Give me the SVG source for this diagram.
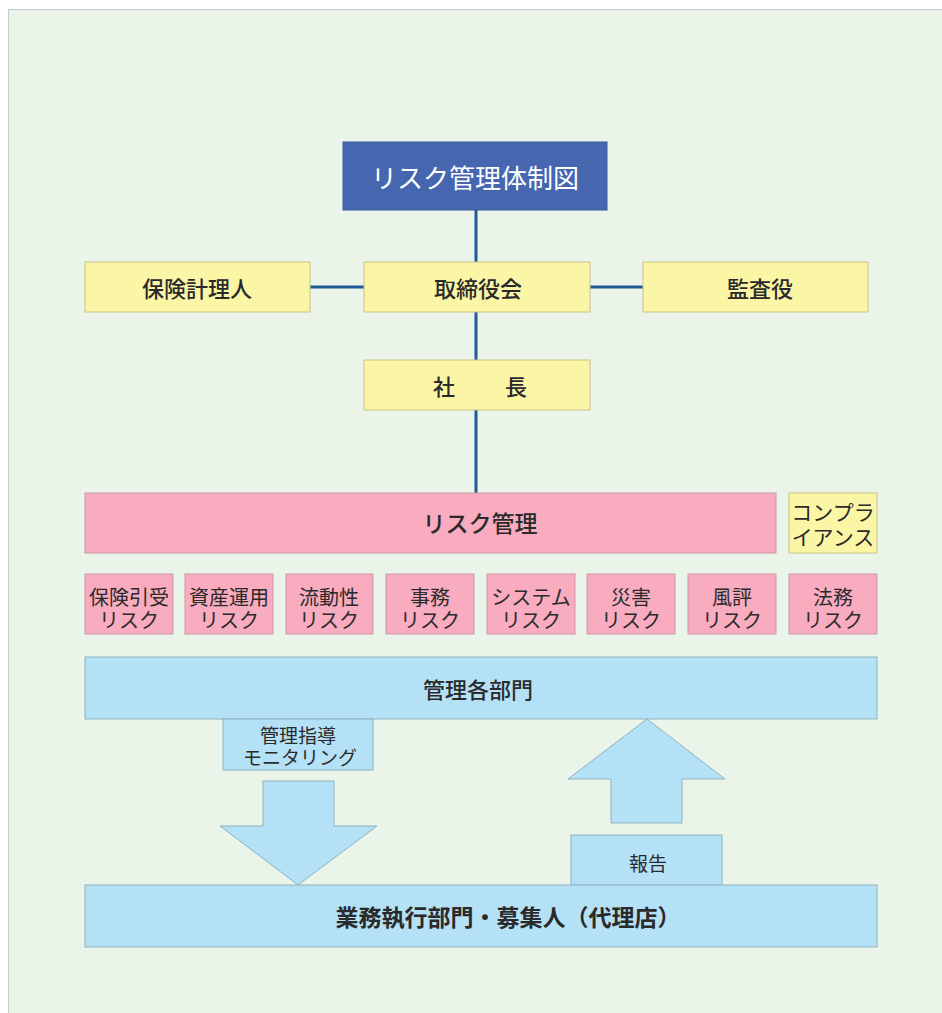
<svg xmlns="http://www.w3.org/2000/svg" width="942" height="1013" viewBox="0 0 942 1013">
<style>
text{font-family:"Noto Sans CJK JP","Noto Sans",sans-serif;fill:#2a2a2a;text-anchor:middle;dominant-baseline:central}
.y{fill:#fbf5a6;stroke:#c9c48a;stroke-width:1}
.p{fill:#f9abbf;stroke:#c99aa6;stroke-width:1}
.b{fill:#b5e1f7;stroke:#8eb2c2;stroke-width:1}
.t{fill:#4666b0;stroke:#3a5a9c;stroke-width:1}
.lg{font-size:22px;font-weight:500}
.sm{font-size:20px;font-weight:400}
.xs{font-size:19px;font-weight:400}
.ln{stroke:#1f5b96;stroke-width:3;fill:none}
</style>
<rect x="0" y="0" width="942" height="1013" fill="#ffffff"/>
<rect x="8.5" y="9.5" width="940" height="1010" fill="#eaf4e9" stroke="#c2cbcb" stroke-width="1"/>
<g id="connectors">
<line class="ln" x1="476" y1="210" x2="476" y2="493"/>
<line class="ln" x1="310" y1="287" x2="643" y2="287"/>
</g>
<g id="title"><rect class="t" x="343" y="142" width="264" height="68"/><text x="475" y="176" style="font-size:26px;fill:#ffffff;font-weight:400">リスク管理体制図</text></g>
<g id="actuary"><rect class="y" x="85" y="262" width="225" height="50"/><text class="lg" x="197" y="287">保険計理人</text></g>
<g id="board"><rect class="y" x="364" y="262" width="226" height="50"/><text class="lg" x="478" y="287">取締役会</text></g>
<g id="auditor"><rect class="y" x="643" y="262" width="225" height="50"/><text class="lg" x="760" y="287">監査役</text></g>
<g id="president"><rect class="y" x="364" y="360" width="226" height="50"/><text class="lg" x="477" y="385"><tspan x="444">社</tspan><tspan x="516">長</tspan></text></g>
<g id="riskmgmt"><rect class="p" x="85" y="493" width="691" height="60"/><text class="lg" x="480" y="522" style="font-size:23px">リスク管理</text></g>
<g id="compliance"><rect class="y" x="789" y="493" width="88" height="60"/><text class="sm" style="font-size:21px"><tspan x="833" y="511">コンプラ</tspan><tspan x="833" y="536">イアンス</tspan></text></g>
<g id="r1"><rect class="p" x="85" y="574" width="88" height="60"/><text class="sm"><tspan x="129" y="596">保険引受</tspan><tspan x="129" y="619">リスク</tspan></text></g>
<g id="r2"><rect class="p" x="185" y="574" width="88" height="60"/><text class="sm"><tspan x="229" y="596">資産運用</tspan><tspan x="229" y="619">リスク</tspan></text></g>
<g id="r3"><rect class="p" x="286" y="574" width="87" height="60"/><text class="sm"><tspan x="329" y="596">流動性</tspan><tspan x="329" y="619">リスク</tspan></text></g>
<g id="r4"><rect class="p" x="386" y="574" width="88" height="60"/><text class="sm"><tspan x="430" y="596">事務</tspan><tspan x="430" y="619">リスク</tspan></text></g>
<g id="r5"><rect class="p" x="487" y="574" width="88" height="60"/><text class="sm"><tspan x="531" y="596">システム</tspan><tspan x="531" y="619">リスク</tspan></text></g>
<g id="r6"><rect class="p" x="587" y="574" width="88" height="60"/><text class="sm"><tspan x="631" y="596">災害</tspan><tspan x="631" y="619">リスク</tspan></text></g>
<g id="r7"><rect class="p" x="688" y="574" width="88" height="60"/><text class="sm"><tspan x="732" y="596">風評</tspan><tspan x="732" y="619">リスク</tspan></text></g>
<g id="r8"><rect class="p" x="789" y="574" width="88" height="60"/><text class="sm"><tspan x="833" y="596">法務</tspan><tspan x="833" y="619">リスク</tspan></text></g>
<g id="mgmtdepts"><rect class="b" x="85" y="657" width="792" height="62"/><text class="lg" x="478" y="688">管理各部門</text></g>
<g id="guidance"><rect class="b" x="223" y="719" width="150" height="51"/><text class="xs"><tspan x="298" y="734">管理指導</tspan><tspan x="300" y="756">モニタリング</tspan></text></g>
<g id="downarrow"><polygon class="b" points="263,781 334,781 334,826 377,826 298,885 220,826 263,826"/></g>
<g id="uparrow"><polygon class="b" points="647,719 725,779 682,779 682,823 611,823 611,779 568,779"/></g>
<g id="report"><rect class="b" x="571" y="835" width="151" height="50"/><text class="xs" x="648" y="862">報告</text></g>
<g id="execution"><rect class="b" x="85" y="885" width="792" height="62"/><text class="lg" x="508" y="916" style="font-size:23px;font-weight:600">業務執行部門・募集人（代理店）</text></g>
</svg>
